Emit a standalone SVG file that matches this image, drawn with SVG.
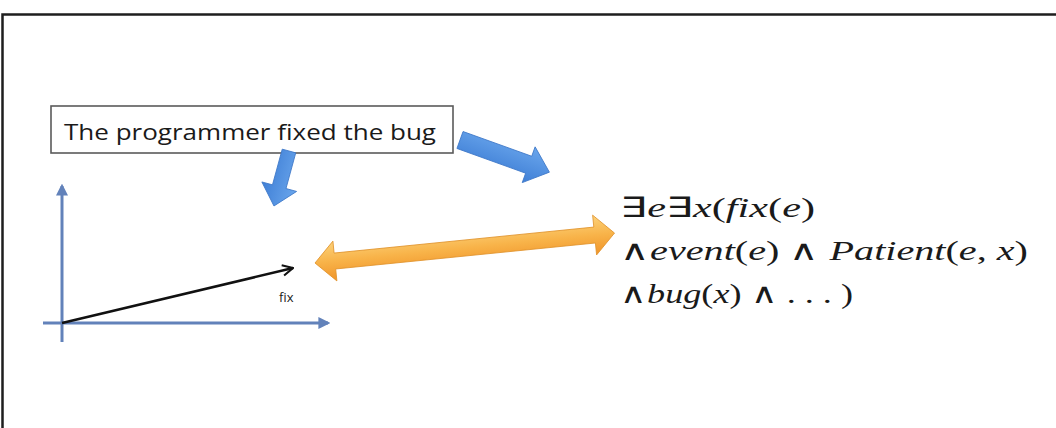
<svg xmlns="http://www.w3.org/2000/svg" width="1056" height="428" viewBox="0 0 1056 428">
<style>
.frame{fill:none;stroke:#1e1e1e;stroke-width:2.5}
.box{fill:#ffffff;stroke:#5a5a5a;stroke-width:1.6}
.lbl{font-family:"Open Sans","Liberation Sans",sans-serif;fill:#1a1a1a}
.axis{stroke:#6282ba;stroke-width:3;fill:none}
.vec{stroke:#111;stroke-width:2.6;fill:none}
.math{font-family:"Liberation Serif","Times New Roman",serif;font-size:28px;fill:#1a1a1a}
.it{font-style:italic}
.blue{fill:url(#gBlue);stroke:#3e78c8;stroke-width:0.8}
.orange{fill:url(#gOrange);stroke:#e0912a;stroke-width:0.8}
</style>
<defs>
<linearGradient id="gBlue" x1="0" y1="0" x2="0" y2="1">
<stop offset="0" stop-color="#6aa6ec"/>
<stop offset="1" stop-color="#3f7fd6"/>
</linearGradient>
<linearGradient id="gOrange" x1="0" y1="0" x2="0" y2="1">
<stop offset="0" stop-color="#fcd27a"/>
<stop offset="0.5" stop-color="#f8b349"/>
<stop offset="1" stop-color="#f09429"/>
</linearGradient>
<marker id="axHead" viewBox="0 0 10 10" refX="8" refY="5" markerWidth="4" markerHeight="4" orient="auto" markerUnits="strokeWidth">
<path d="M0,0 L10,5 L0,10 Z" fill="#6282ba"/>
</marker>
<marker id="vecHead" viewBox="0 0 10 10" refX="9" refY="5" markerWidth="5" markerHeight="5" orient="auto" markerUnits="strokeWidth">
<path d="M1,1 L9,5 L1,9" fill="none" stroke="#111" stroke-width="1.6"/>
</marker>
</defs>
<rect x="0" y="0" width="1056" height="428" fill="#ffffff"/>
<path class="frame" d="M2.5,428 L2.5,14.5 L1056,14.5"/>

<g id="sentence">
<rect class="box" x="51" y="106" width="402" height="47"/>
<text class="lbl" x="64" y="140" font-size="22" textLength="372" lengthAdjust="spacingAndGlyphs">The programmer fixed the bug</text>
</g>

<g id="vector-space">
<line class="axis" x1="62" y1="342" x2="62" y2="186" marker-end="url(#axHead)"/>
<line class="axis" x1="43" y1="323" x2="328" y2="323" marker-end="url(#axHead)"/>
<line class="vec" x1="62" y1="323" x2="293" y2="268" marker-end="url(#vecHead)"/>
<text class="lbl" x="279" y="302" font-size="13">fix</text>
</g>

<g id="logical-form">
<text class="math" x="620" y="217" textLength="195" lengthAdjust="spacingAndGlyphs">∃<tspan class="it">e</tspan>∃<tspan class="it">x</tspan>(<tspan class="it">fix</tspan>(<tspan class="it">e</tspan>)</text>
<text class="math" x="620" y="260" textLength="408" lengthAdjust="spacingAndGlyphs">∧<tspan class="it">event</tspan>(<tspan class="it">e</tspan>) ∧ <tspan class="it">Patient</tspan>(<tspan class="it">e</tspan>, <tspan class="it">x</tspan>)</text>
<text class="math" x="620" y="303" textLength="233" lengthAdjust="spacingAndGlyphs">∧<tspan class="it">bug</tspan>(<tspan class="it">x</tspan>) ∧ . . . )</text>
</g>

<g id="connectors">
<polygon class="blue" transform="translate(289,151) rotate(105.3)" points="0,-7 37,-7 37,-18 57,0 37,18 37,7 0,7"/>
<polygon class="blue" transform="translate(460,140) rotate(19.8)" points="0,-9 73,-9 73,-19 95,0 73,19 73,9 0,9"/>
<polygon class="orange" transform="translate(315,263) rotate(-5.71)" points="0,0 20,-20 20,-8 281,-8 281,-20 301,0 281,20 281,8 20,8 20,20"/>
</g>
</svg>
